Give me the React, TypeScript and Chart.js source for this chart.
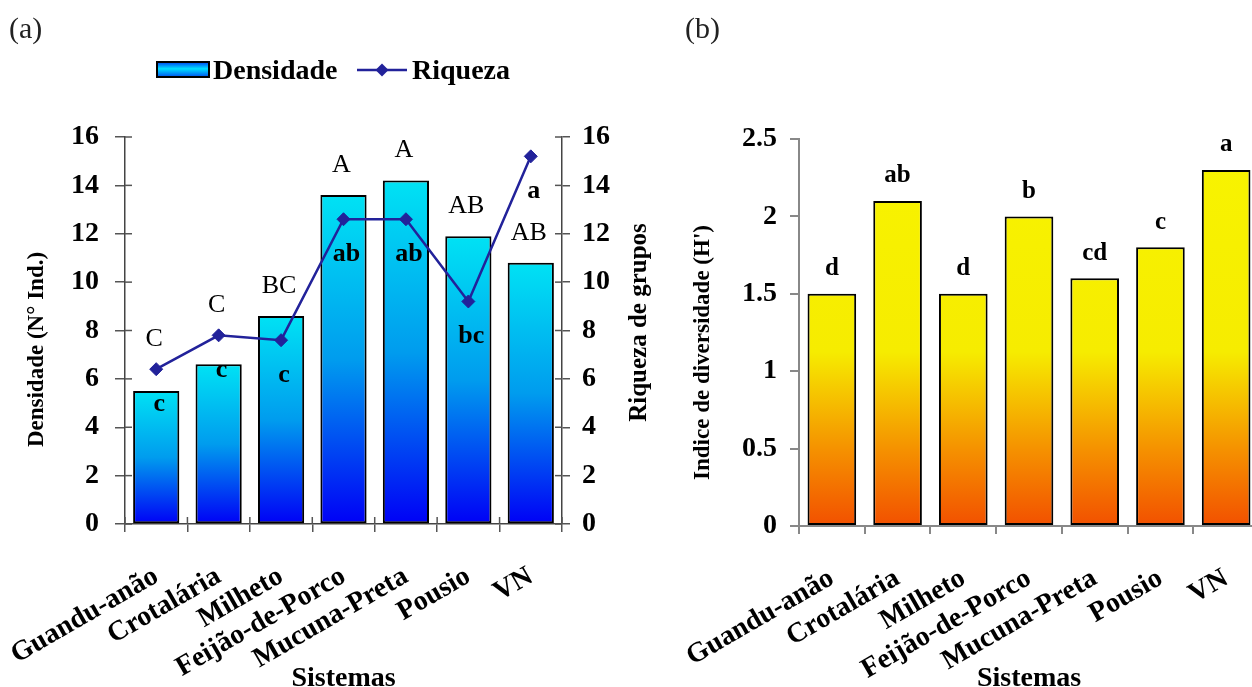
import React, { useEffect, useRef } from 'react';
import { Chart, registerables } from 'chart.js';

Chart.register(...registerables);

const categories = ['Guandu-anão', 'Crotalária', 'Milheto', 'Feijão-de-Porco', 'Mucuna-Preta', 'Pousio', 'VN'];
const densidade = [5.5, 6.6, 8.6, 13.6, 14.2, 11.9, 10.8];
const riqueza = [6.4, 7.8, 7.6, 12.6, 12.6, 9.2, 15.2];
const densidadeLetters = ['C', 'C', 'BC', 'A', 'A', 'AB', 'AB'];
const riquezaLetters = ['c', 'c', 'c', 'ab', 'ab', 'bc', 'a'];
const diversidade = [1.5, 2.1, 1.5, 2.0, 1.6, 1.8, 2.3];
const diversidadeLetters = ['d', 'ab', 'd', 'b', 'cd', 'c', 'a'];

const SERIF = "'Liberation Serif', 'Times New Roman', serif";
const NAVY = '#22229a';

function seg(ctx: CanvasRenderingContext2D, x1: number, y1: number, x2: number, y2: number) {
  ctx.beginPath();
  ctx.moveTo(x1, y1);
  ctx.lineTo(x2, y2);
  ctx.stroke();
}

function diamond(ctx: CanvasRenderingContext2D, x: number, y: number, r: number) {
  ctx.beginPath();
  ctx.moveTo(x, y - r);
  ctx.lineTo(x + r, y);
  ctx.lineTo(x, y + r);
  ctx.lineTo(x - r, y);
  ctx.closePath();
  ctx.fill();
}

function vText(ctx: CanvasRenderingContext2D, text: string, x: number, y: number, size: number) {
  ctx.save();
  ctx.translate(x, y);
  ctx.rotate(-Math.PI / 2);
  ctx.textAlign = 'center';
  ctx.textBaseline = 'middle';
  ctx.fillStyle = '#000';
  ctx.font = `bold ${size}px ${SERIF}`;
  ctx.fillText(text, 0, 0);
  ctx.restore();
}

function categoryBounds(chart: any): number[] {
  const xs = chart.scales.x;
  const n = xs.ticks.length;
  const res: number[] = [chart.chartArea.left];
  for (let i = 0; i < n - 1; i++) {
    res.push((xs.getPixelForTick(i) + xs.getPixelForTick(i + 1)) / 2);
  }
  res.push(chart.chartArea.right);
  return res;
}

const leftDecor = {
  id: 'leftDecor',
  beforeDatasetsDraw(chart: any) {
    const { ctx, chartArea, scales } = chart;
    ctx.save();
    ctx.strokeStyle = '#555';
    ctx.lineWidth = 1.5;
    scales.y.ticks.forEach((t: any) => {
      const py = scales.y.getPixelForValue(t.value);
      seg(ctx, chartArea.left, py, chartArea.left + 7, py);
    });
    scales.y1.ticks.forEach((t: any) => {
      const py = scales.y1.getPixelForValue(t.value);
      seg(ctx, chartArea.right - 7, py, chartArea.right, py);
    });
    categoryBounds(chart).forEach((px) => seg(ctx, px, chartArea.bottom - 7, px, chartArea.bottom));
    ctx.restore();
  },
  afterDatasetsDraw(chart: any) {
    const { ctx } = chart;
    const bars = chart.getDatasetMeta(1).data;
    const pts = chart.getDatasetMeta(0).data;
    ctx.save();
    ctx.fillStyle = '#000';
    ctx.textAlign = 'center';
    ctx.textBaseline = 'middle';
    bars.forEach((bar: any, i: number) => {
      const pt = pts[i];
      const diff = bar.y - pt.y;
      const anchor = diff > 0 && diff < 50 ? pt.y : bar.y;
      ctx.font = `normal 26px ${SERIF}`;
      ctx.fillText(densidadeLetters[i], bar.x - 2, anchor - 30);
      ctx.font = `bold 26px ${SERIF}`;
      ctx.fillText(riquezaLetters[i], pt.x + 3, pt.y + 35);
    });
    ctx.restore();
  },
  afterDraw(chart: any) {
    const { ctx, chartArea } = chart;
    ctx.save();
    // panel label
    ctx.fillStyle = '#222';
    ctx.font = `normal 30px ${SERIF}`;
    ctx.textBaseline = 'middle';
    ctx.textAlign = 'left';
    ctx.fillText('(a)', 9, 30);
    // legend
    const g = ctx.createLinearGradient(0, 62, 0, 77);
    g.addColorStop(0, '#0040f0');
    g.addColorStop(0.45, '#00e0ff');
    g.addColorStop(1, '#0050f0');
    ctx.fillStyle = g;
    ctx.fillRect(157, 62, 52, 15);
    ctx.strokeStyle = '#000';
    ctx.lineWidth = 2;
    ctx.strokeRect(157, 62, 52, 15);
    ctx.fillStyle = '#000';
    ctx.font = `bold 28px ${SERIF}`;
    ctx.textBaseline = 'alphabetic';
    ctx.fillText('Densidade', 213, 79);
    ctx.strokeStyle = NAVY;
    ctx.lineWidth = 2.5;
    seg(ctx, 357, 70, 407, 70);
    ctx.fillStyle = NAVY;
    diamond(ctx, 382, 70, 6.5);
    ctx.fillStyle = '#000';
    ctx.fillText('Riqueza', 412, 79);
    ctx.restore();
    // axis titles
    const mid = (chartArea.top + chartArea.bottom) / 2;
    vText(ctx, 'Densidade (N° Ind.)', chart.scales.y.left + 37, mid + 19, 23);
    vText(ctx, 'Riqueza de grupos', chart.scales.y1.right - 20, mid - 8, 25);
  },
};

const rightDecor = {
  id: 'rightDecor',
  afterDatasetsDraw(chart: any) {
    const { ctx } = chart;
    const bars = chart.getDatasetMeta(0).data;
    ctx.save();
    ctx.fillStyle = '#000';
    ctx.textAlign = 'center';
    ctx.textBaseline = 'middle';
    ctx.font = `bold 25px ${SERIF}`;
    bars.forEach((bar: any, i: number) => {
      ctx.fillText(diversidadeLetters[i], bar.x, bar.y - 25);
    });
    ctx.restore();
  },
  afterDraw(chart: any) {
    const { ctx, chartArea } = chart;
    ctx.save();
    ctx.fillStyle = '#222';
    ctx.font = `normal 30px ${SERIF}`;
    ctx.textBaseline = 'middle';
    ctx.textAlign = 'left';
    ctx.fillText('(b)', 25, 30);
    ctx.restore();
    const mid = (chartArea.top + chartArea.bottom) / 2;
    vText(ctx, "Indice de diversidade (H')", chart.scales.y.left + 43, mid + 20, 23);
  },
};

const tickFont = { family: SERIF, size: 28, weight: 'bold' as const };
const catFont = { family: SERIF, size: 28, weight: 'bold' as const };
const titleFont = { family: SERIF, size: 28, weight: 'bold' as const };

function leftConfig(): any {
  return {
    type: 'bar',
    data: {
      labels: categories,
      datasets: [
        {
          type: 'line',
          label: 'Riqueza',
          data: riqueza,
          yAxisID: 'y1',
          borderColor: NAVY,
          backgroundColor: NAVY,
          borderWidth: 2.5,
          pointStyle: 'rectRot',
          pointRadius: 6.5,
          pointBackgroundColor: NAVY,
          pointBorderColor: NAVY,
          pointBorderWidth: 1,
          tension: 0,
          order: 0,
        },
        {
          type: 'bar',
          label: 'Densidade',
          data: densidade,
          yAxisID: 'y',
          backgroundColor: (c: any) => {
            const chart = c.chart;
            const { ctx, chartArea, scales } = chart;
            if (!chartArea || c.type !== 'data') return '#0090ee';
            const top = scales.y.getPixelForValue(c.raw);
            const bot = scales.y.getPixelForValue(0);
            const g = ctx.createLinearGradient(0, top, 0, bot);
            g.addColorStop(0, '#00e2f4');
            g.addColorStop(0.5, '#009cee');
            g.addColorStop(1, '#0000f6');
            return g;
          },
          borderColor: '#000',
          borderWidth: 2,
          borderSkipped: false,
          categoryPercentage: 0.74,
          barPercentage: 1,
          order: 1,
        },
      ],
    },
    options: {
      animation: false,
      responsive: false,
      maintainAspectRatio: false,
      layout: { padding: { top: 137, left: 0, right: 0, bottom: 0 } },
      plugins: { legend: { display: false }, tooltip: { enabled: false } },
      scales: {
        x: {
          type: 'category',
          offset: true,
          grid: { offset: true, drawOnChartArea: false, drawTicks: true, tickLength: 8, color: '#555', lineWidth: 1.5 },
          border: { color: '#444', width: 1.5 },
          ticks: { font: catFont, color: '#000', minRotation: 30, maxRotation: 30, autoSkip: false, padding: 28 },
          title: { display: true, text: 'Sistemas', font: titleFont, color: '#000', padding: { top: 0, bottom: 4 } },
          afterFit: (s: any) => { s.height = 176; s.paddingLeft = 0; s.paddingRight = 0; },
        },
        y: {
          position: 'left',
          min: 0,
          max: 16,
          ticks: { stepSize: 2, font: tickFont, color: '#000', padding: 16 },
          grid: { drawOnChartArea: false, drawTicks: true, tickLength: 10, color: '#555', lineWidth: 1.5 },
          border: { color: '#444', width: 1.5 },
          afterFit: (s: any) => { s.width = 125; s.paddingTop = 0; s.paddingBottom = 0; },
        },
        y1: {
          position: 'right',
          min: 0,
          max: 16,
          ticks: { stepSize: 2, font: tickFont, color: '#000', padding: 12 },
          grid: { drawOnChartArea: false, drawTicks: true, tickLength: 8, color: '#555', lineWidth: 1.5 },
          border: { color: '#444', width: 1.5 },
          afterFit: (s: any) => { s.width = 98; s.paddingTop = 0; s.paddingBottom = 0; },
        },
      },
    },
    plugins: [leftDecor],
  };
}

function rightConfig(): any {
  return {
    type: 'bar',
    data: {
      labels: categories,
      datasets: [
        {
          label: 'Indice de diversidade',
          data: diversidade,
          backgroundColor: (c: any) => {
            const chart = c.chart;
            const { ctx, chartArea } = chart;
            if (!chartArea) return '#f8f000';
            const g = ctx.createLinearGradient(0, chartArea.top, 0, chartArea.bottom);
            g.addColorStop(0, '#f8f400');
            g.addColorStop(0.55, '#f6ec00');
            g.addColorStop(0.8, '#f59200');
            g.addColorStop(1, '#f25000');
            return g;
          },
          borderColor: '#000',
          borderWidth: 2,
          borderSkipped: false,
          categoryPercentage: 0.74,
          barPercentage: 1,
        },
      ],
    },
    options: {
      animation: false,
      responsive: false,
      maintainAspectRatio: false,
      layout: { padding: { top: 139, left: 0, right: 21, bottom: 0 } },
      plugins: { legend: { display: false }, tooltip: { enabled: false } },
      scales: {
        x: {
          type: 'category',
          offset: true,
          grid: { offset: true, drawOnChartArea: false, drawTicks: true, tickLength: 8, color: '#888', lineWidth: 2 },
          border: { color: '#888', width: 2 },
          ticks: { font: catFont, color: '#000', minRotation: 30, maxRotation: 30, autoSkip: false, padding: 28 },
          title: { display: true, text: 'Sistemas', font: titleFont, color: '#000', padding: { top: 0, bottom: 4 } },
          afterFit: (s: any) => { s.height = 174; s.paddingLeft = 0; s.paddingRight = 0; },
        },
        y: {
          min: 0,
          max: 2.5,
          ticks: { stepSize: 0.5, font: tickFont, color: '#000', padding: 13, callback: (v: any) => String(Number(v)) },
          grid: { drawOnChartArea: false, drawTicks: true, tickLength: 9, color: '#888', lineWidth: 2 },
          border: { color: '#888', width: 2 },
          afterFit: (s: any) => { s.width = 139; s.paddingTop = 0; s.paddingBottom = 0; },
        },
      },
    },
    plugins: [rightDecor],
  };
}

export default function App() {
  const leftRef = useRef<HTMLCanvasElement>(null);
  const rightRef = useRef<HTMLCanvasElement>(null);
  useEffect(() => {
    const a = new Chart(leftRef.current as HTMLCanvasElement, leftConfig());
    const b = new Chart(rightRef.current as HTMLCanvasElement, rightConfig());
    return () => {
      a.destroy();
      b.destroy();
    };
  }, []);
  return (
    <div style={{ position: 'fixed', left: 0, top: 0, width: 1252, height: 687, overflow: 'hidden', background: '#fff' }}>
      <canvas ref={leftRef} width={660} height={700} style={{ position: 'absolute', left: 0, top: 0 }} />
      <canvas ref={rightRef} width={620} height={700} style={{ position: 'absolute', left: 660, top: 0 }} />
    </div>
  );
}
